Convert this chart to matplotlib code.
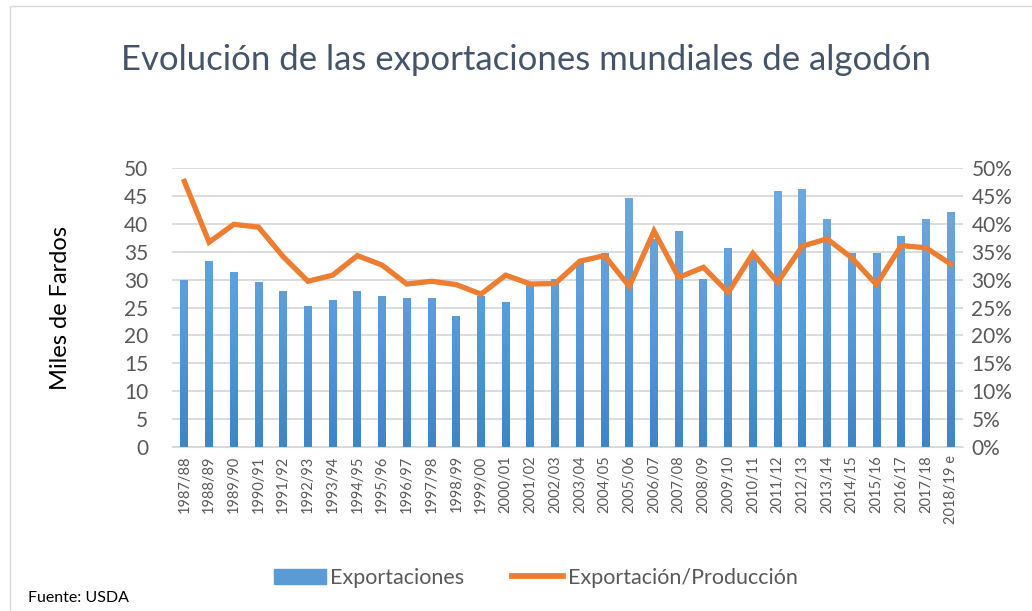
import matplotlib
matplotlib.use("Agg")
import matplotlib.pyplot as plt
import numpy as np
from matplotlib.ticker import FuncFormatter
from matplotlib.patches import Rectangle
from matplotlib.lines import Line2D
from matplotlib.colors import LinearSegmentedColormap

plt.rcParams['font.family'] = ['Lato', 'DejaVu Sans']

# Data -------------------------------------------------------------------
campanas = ["1987/88", "1988/89", "1989/90", "1990/91", "1991/92", "1992/93",
            "1993/94", "1994/95", "1995/96", "1996/97", "1997/98", "1998/99",
            "1999/00", "2000/01", "2001/02", "2002/03", "2003/04", "2004/05",
            "2005/06", "2006/07", "2007/08", "2008/09", "2009/10", "2010/11",
            "2011/12", "2012/13", "2013/14", "2014/15", "2015/16", "2016/17",
            "2017/18", "2018/19 e"]
exportaciones = [30.0, 33.4, 31.3, 29.5, 28.0, 25.3, 26.4, 28.0, 27.1, 26.7,
                 26.7, 23.5, 27.0, 26.0, 29.1, 30.1, 33.0, 34.8, 44.7, 37.2,
                 38.7, 30.1, 35.7, 34.5, 45.9, 46.3, 40.8, 34.8, 34.8, 37.8,
                 40.8, 42.2]
ratio_pct = [47.6, 36.7, 39.9, 39.4, 34.1, 29.7, 30.8, 34.3, 32.6, 29.2,
             29.7, 29.1, 27.4, 30.8, 29.2, 29.3, 33.3, 34.3, 28.8, 38.7,
             30.4, 32.2, 27.7, 34.7, 29.5, 36.0, 37.3, 33.9, 29.1, 36.1,
             35.7, 32.8]

bar_color = "#5B9BD5"
line_color = "#ED7D31"
tick_color = "#595959"
grad = LinearSegmentedColormap.from_list("azul", ["#3E85C6", "#5A9DDC", "#74AADB"])

# Figure -----------------------------------------------------------------
fig = plt.figure(figsize=(10.32, 6.11), dpi=100)
W, H = 1032, 611
ax = fig.add_axes([172 / W, 1 - 447 / H, (963 - 172) / W, (447 - 168) / H])
ax2 = ax.twinx()

x = np.arange(len(campanas))
bars = ax.bar(x, exportaciones, width=0.32, color=bar_color, zorder=2)
# gradient fill inside each bar (light on top, darker at the base)
g = np.linspace(0, 1, 256).reshape(-1, 1)
for b in bars:
    bx, bw = b.get_x(), b.get_width()
    im = ax.imshow(g, cmap=grad, origin='lower', aspect='auto',
                   extent=[bx, bx + bw, 0, 50], zorder=2.1)
    im.set_clip_path(b)
    b.set_facecolor('none')

ax2.plot(x, np.array(ratio_pct) / 100, color=line_color, lw=3.8,
         solid_joinstyle='miter', zorder=3)

ax.set_xlim(-0.5, len(campanas) - 0.5)
ax.set_ylim(0, 50)
ax.set_yticks(np.arange(0, 51, 5))
ax2.set_ylim(0, 0.5)
ax2.set_yticks(np.arange(0, 0.51, 0.05))
ax2.yaxis.set_major_formatter(FuncFormatter(lambda v, p: f"{v * 100:.0f}%"))

ax.grid(axis='y', color='#D9D9D9', lw=1.3, zorder=0)
ax.set_axisbelow(True)
for a in (ax, ax2):
    for s in a.spines.values():
        s.set_visible(False)
    a.tick_params(length=0, labelsize=15, colors=tick_color)
ax.spines['bottom'].set_visible(True)
ax.spines['bottom'].set_color('#D9D9D9')
ax.tick_params(axis='y', pad=17)
ax2.tick_params(axis='y', pad=6)

ax.set_xticks(x)
ax.set_xticklabels(campanas, rotation=90, fontsize=10.5, color=tick_color)
ax.tick_params(axis='x', pad=6, labelsize=10.5)

ax.set_ylabel("Miles de Fardos", fontsize=17, color='black', labelpad=38)

fig.text(526 / W, 1 - 60 / H, "Evolución de las exportaciones mundiales de algodón",
         ha='center', va='center', fontsize=25, color='#44546A')

# Legend
handles = [Rectangle((0, 0), 1, 1, color=bar_color),
           Line2D([0], [0], color=line_color, lw=4.2)]
fig.legend(handles, ["Exportaciones", "Exportación/Producción"],
           loc='center', bbox_to_anchor=(536 / W, 1 - 578 / H), ncol=2,
           frameon=False, fontsize=15.5, labelcolor=tick_color,
           handlelength=2.4, columnspacing=2.2, handletextpad=0.2)

fig.text(28 / W, 1 - 598 / H, "Fuente: USDA", ha='left', va='center',
         fontsize=11.5, color='black')

fig.patches.append(Rectangle((10 / W, -0.01), 1.0, 1.0, transform=fig.transFigure,
                             fill=False, edgecolor='#D9D9D9', lw=1))

fig.savefig("out.png", dpi=100, facecolor='white')
